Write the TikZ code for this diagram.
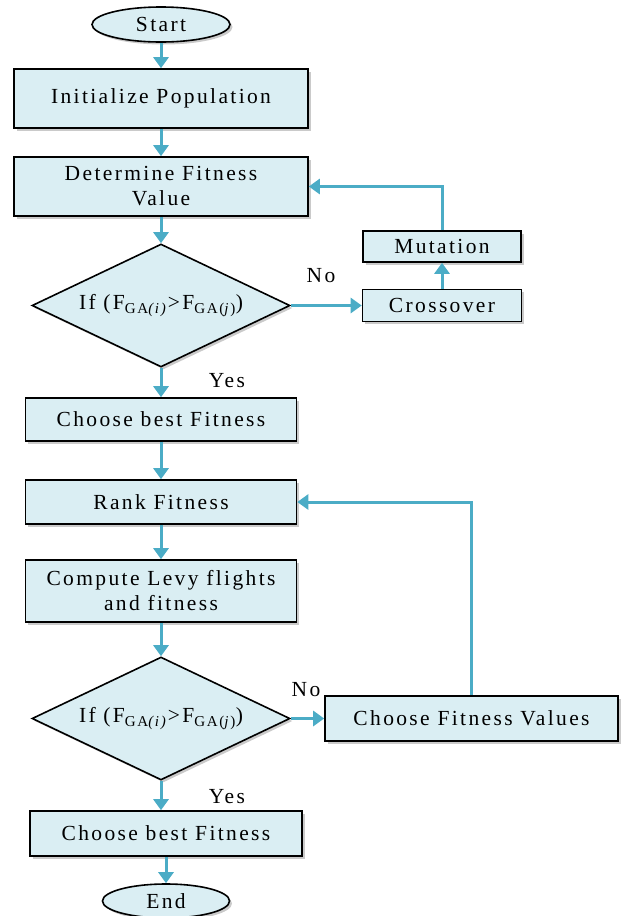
\documentclass[tikz,border=0pt]{standalone}
\usepackage{fontspec}
\setmainfont{Liberation Serif}[LetterSpace=11]
\usetikzlibrary{shapes.geometric,arrows.meta,shadows}
\definecolor{boxfill}{HTML}{DAEEF3}
\definecolor{flowblue}{HTML}{4BACC6}
\begin{document}
\begin{tikzpicture}[x=1pt,y=-1pt,
	every node/.style={font=\fontsize{21.5}{25}\selectfont,align=center,inner sep=0pt},
	shade/.style={drop shadow={shadow xshift=2.5pt,shadow yshift=-2.5pt,opacity=.35,fill=black!60}},
	proc/.style={draw,line width=1.6pt,fill=boxfill,shade},
	term/.style={proc,ellipse},
	test/.style={proc,diamond,aspect=2.1},
	flow/.style={draw=flowblue,line width=3pt,-{Triangle[width=15pt,length=11pt]}}]
	\useasboundingbox (0,0) rectangle (625,916);
	\def\colx{161}
	% main column
	\node[term,minimum width=138pt,minimum height=35pt] (start) at (\colx,24.5) {Start};
	\node[proc,minimum width=294pt,minimum height=59pt] (init) at (\colx,98.5) {Initialize Population};
	\node[proc,minimum width=294pt,minimum height=59pt] (fitval) at (\colx,186.5) {Determine Fitness\\Value};
	\node[test,minimum width=258pt,minimum height=123pt] (cond1) at (\colx,305.5) {If (F\textsubscript{GA\textit{(i)}}>F\textsubscript{GA(\textit{j})})};
	\node[proc,minimum width=271pt,minimum height=43pt] (best1) at (\colx,419.5) {Choose best Fitness};
	\node[proc,minimum width=271pt,minimum height=44pt] (rank) at (\colx,502) {Rank Fitness};
	\node[proc,minimum width=271pt,minimum height=62pt] (levy) at (\colx,591) {Compute Levy flights\\and fitness};
	\node[test,minimum width=258pt,minimum height=123pt] (cond2) at (\colx,718.5) {If (F\textsubscript{GA\textit{(i)}}>F\textsubscript{GA(\textit{j})})};
	\node[proc,minimum width=272pt,minimum height=45pt] (best2) at (166,833.5) {Choose best Fitness};
	\node[term,minimum width=127pt,minimum height=34pt] (stop) at (166,901) {End};
	% side boxes
	\node[proc,minimum width=158pt,minimum height=31pt] (mut) at (442,246.5) {Mutation};
	\node[proc,minimum width=159pt,minimum height=32pt] (cross) at (442,305.5) {Crossover};
	\node[proc,minimum width=293pt,minimum height=45pt] (choose) at (471.5,718.5) {Choose Fitness Values};
	% labels
	\node (no1) at (321,276) {No};
	\node (yes1) at (227,381) {Yes};
	\node (no2) at (306,690) {No};
	\node (yes2) at (227,797) {Yes};
	% connectors
	\path[flow] (start) -- (init);
	\path[flow] (init) -- (fitval);
	\path[flow] (fitval.south) -- (cond1.north);
	\path[flow] (cond1.south) -- (best1.north);
	\path[flow] (best1) -- (rank);
	\path[flow] (rank) -- (levy);
	\path[flow] (levy.south) -- (cond2.north);
	\path[flow] (cond2.south) -- (cond2.south |- best2.north);
	\path[flow] (best2) -- (stop);
	\path[flow] (cond1) -- (cross);
	\path[flow] (cross) -- (mut);
	\path[flow] (mut) |- (fitval);
	\path[flow] (cond2) -- (choose);
	\path[flow] (choose) |- (rank);
\end{tikzpicture}
\end{document}
